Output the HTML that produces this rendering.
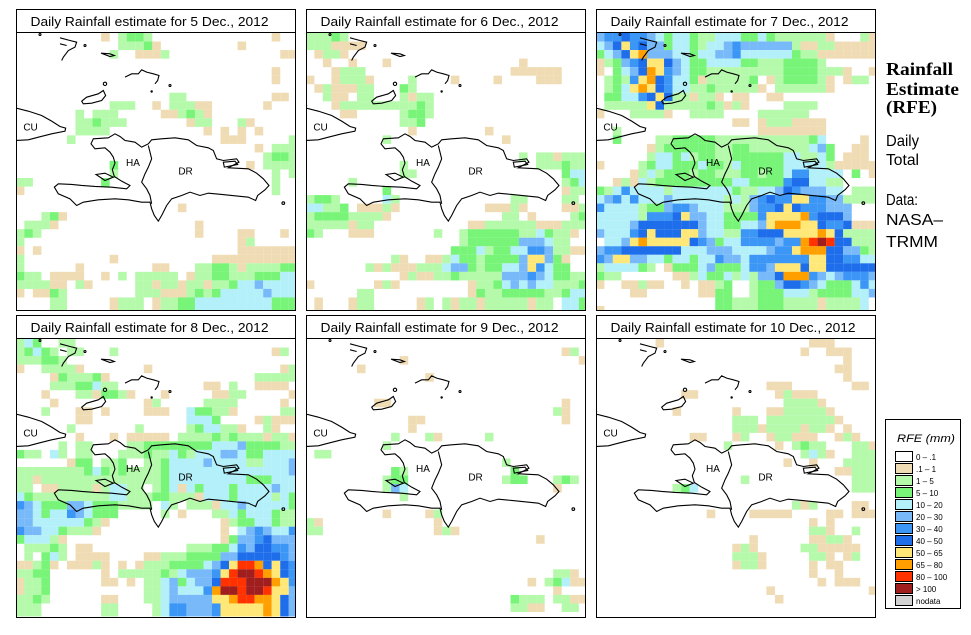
<!DOCTYPE html>
<html><head><meta charset="utf-8">
<style>
html,body{margin:0;padding:0;background:#fff;}
body{width:971px;height:635px;position:relative;overflow:hidden;font-family:"Liberation Sans",sans-serif;}
svg{position:absolute;left:0;top:0;}
</style></head>
<body>
<svg id="chart" width="971" height="635" viewBox="0 0 971 635" xmlns="http://www.w3.org/2000/svg">
  <defs>
    <clipPath id="mapclip"><rect x="0" y="0" width="279" height="278"/></clipPath>
  </defs>
  <g id="panels"></g>
  <g>
    <text x="886" y="75" font-family="Liberation Serif,serif" font-weight="bold" font-size="18" textLength="67" lengthAdjust="spacingAndGlyphs">Rainfall</text>
    <text x="886" y="95" font-family="Liberation Serif,serif" font-weight="bold" font-size="18" textLength="73" lengthAdjust="spacingAndGlyphs">Estimate</text>
    <text x="886" y="113" font-family="Liberation Serif,serif" font-weight="bold" font-size="18" textLength="51" lengthAdjust="spacingAndGlyphs">(RFE)</text>
    <text x="886" y="146" font-size="16" textLength="33" lengthAdjust="spacingAndGlyphs">Daily</text>
    <text x="886" y="165" font-size="16" textLength="33" lengthAdjust="spacingAndGlyphs">Total</text>
    <text x="886" y="205" font-size="16" textLength="32" lengthAdjust="spacingAndGlyphs">Data:</text>
    <text x="886" y="225" font-size="16" textLength="57" lengthAdjust="spacingAndGlyphs">NASA–</text>
    <text x="886" y="247" font-size="16" textLength="52" lengthAdjust="spacingAndGlyphs">TRMM</text>
  </g>
  <g id="legend">
    <rect x="885.5" y="419.5" width="75" height="189" fill="#fff" stroke="#000" stroke-width="1"/>
    <text x="897" y="442" font-size="11" font-style="italic" textLength="58" lengthAdjust="spacingAndGlyphs">RFE (mm)</text>
  </g>
</svg>
<script>
// Level codes: 0 '0-.1', 1 '.1-1', 2 '1-5', 3 '5-10', 4 '10-20', 5 '20-30', 6 '30-40', 7 '40-50', 8 '50-65', 9 '65-80', a '80-100', b '>100'
const legendLabels = ["0 – .1", ".1 – 1", "1 – 5", "5 – 10", "10 – 20", "20 – 30", "30 – 40", "40 – 50", "50 – 65", "65 – 80", "80 – 100", "> 100", "nodata"];
const levelColors = ["#ffffff","#f0dcb4","#b4faaa","#78f578","#b4f0fa","#78b9fa","#3c96f5","#1e6eeb","#ffe878","#ffa000","#ff3200","#a01e1e","#d2d2d2"];
const panelTitles = ["Daily Rainfall estimate for  5 Dec., 2012","Daily Rainfall estimate for  6 Dec., 2012","Daily Rainfall estimate for  7 Dec., 2012","Daily Rainfall estimate for  8 Dec., 2012","Daily Rainfall estimate for  9 Dec., 2012","Daily Rainfall estimate for 10 Dec., 2012"];

const gridDec5 = [
"00000000001 02332000000 00000000100",
"00000000000 02223100000 00001000000",
"00000000000 20011120000 00000000011",
"00000000000 00000000000 00000000000",
"00000000000 00000000000 00000000100",
"00000000000 00000000000 00000000100",
"00000000000 00000000000 00000000000",
"00000000000 00000002200 00000000110",
"00000000000 22200102221 10000001000",
"00000002022 20000011232 10000000000",
"00000002232 22000000012 20002100000",
"00000002222 00000000000 10101010000",
"00000020000 00000000000 00111000002",
"00000000000 00000000000 00000010222",
"00000000000 00000000000 00000002332",
"00000000000 30000000000 00000102222",
"00000000000 20000000000 00000000202",
"22000000003 00000000000 00000000200",
"10000000000 00000000000 00000000200",
"00000000000 00000000000 00000000000",
"00000000000 00000000100 00000000000",
"00023100000 00000000000 00000000000",
"02221000000 00000000001 00000000000",
"23200000000 00000000001 00001100010",
"20000000000 00000000000 00001200000",
"10100000000 00000000000 00001111111",
"20000000000 10000000000 01111111111",
"20000001000 00000110002 23321222233",
"32201111001 02022222012 23322233344",
"22221102100 00022122122 12234454444",
"10113200000 00022211123 23444445444",
"00002200000 12220122334 44444444333",
"00002200000 12220122334 44444444333"];

const gridDec6 = [
"22232000000 00000000000 00000000000",
"22211110000 00000000000 00000000000",
"01221000000 00000000000 00000000000",
"00100100010 00000000000 00010000000",
"00012220000 00000000000 00111111000",
"10012221000 02000010000 10000111000",
"01211122000 32000000000 00000000000",
"00211022000 21220000000 00000000000",
"00012222222 22320000000 00000000000",
"00001100000 23320000000 00000000000",
"00000000000 22300000000 00000000000",
"00000000000 01000000001 00000000000",
"00000000020 00000000000 01000000000",
"00000000000 00000000000 00000000000",
"00000000000 00000000000 00020221222",
"00000000000 20000000000 00000222322",
"00000000000 22000000000 00000000344",
"00000200000 00000000000 00000000234",
"00000000030 00000000000 00000000122",
"23320000042 00000000000 00220000220",
"44223011121 00000000001 11210000112",
"23333222210 00000000000 02201000023",
"22222122000 00000000112 22222111222",
"32000111000 00002002333 33322432210",
"00000000000 00000002333 33355542200",
"00000000000 00000033342 33446652211",
"00000000002 10011243323 33358853100",
"00000002121 11222455323 34458643300",
"00000000000 12112232222 25556543322",
"10000000121 00000000122 34545442223",
"00000022000 00000000132 23333322344",
"01000122000 00120212212 22221220443",
"01000122000 00120212212 22221220443"];

const gridDec7 = [
"56676654344 32244433432 22222100021",
"45786755344 32445655555 52112211111",
"34578955544 34455644444 43221111111",
"12356788754 33444433222 33332000000",
"10345798654 33222222222 33332221001",
"02326897644 31222223012 33332101220",
"02348987644 22322222102 22222100000",
"03344678722 12210110011 00000000000",
"02222287222 22321210000 22220000000",
"10002222100 22220000222 22200000000",
"00000000000 00000110122 21111000000",
"00200000000 00000000111 11111000000",
"00300002233 33322222222 22234000010",
"00000012333 33322332222 22245300110",
"00000024434 23322333333 44224301110",
"10000234433 34332433333 44444211111",
"00001242333 23322233233 46644440301",
"00121423333 33333443333 67744220000",
"32464444244 44444322445 76555440222",
"45646444544 44442425676 68866552222",
"64444233566 54442225667 87666555000",
"44444266678 55443333688 88967775000",
"44445777777 75443344589 99887667111",
"54446787778 85442266777 88889872222",
"04458988888 76534466665 669aba77222",
"56677777774 44555444456 68999775532",
"65885544344 34465546666 66688776644",
"24444320133 34533346658 88788777777",
"32200000011 24334242557 99965456665",
"10011211001 01123002335 77654333464",
"00001100000 01133002333 44423333445",
"00000000000 00033222333 22221222240",
"10000000000 00033222333 22221222240"];

const gridDec8 = [
"24300220000 00000000000 00000000000",
"23432022000 20000000000 00000000120",
"22233200000 00000000000 00000000000",
"10022221000 00001000000 00000000012",
"00001322231 00000000000 00000022222",
"00002223342 20000000000 11020011110",
"00010002213 32100010000 01122000001",
"00001000000 00001200000 22220000010",
"00020001101 00001110043 32210000022",
"00000001100 00000000044 43000012111",
"00000020000 00020000023 44221002100",
"00000001000 10111110222 23232221221",
"00000202200 00223333333 34445333322",
"32204202200 02223224324 44554334444",
"00000013302 23002234444 54444224445",
"22222222343 23222234444 44444444445",
"22122222222 22222234444 44444333444",
"22011222212 44220234143 44434444544",
"43222222222 44222332221 44434444243",
"65433355433 32222042022 21445444443",
"55434465433 30000020100 02243444322",
"55444444321 00000000000 00123344322",
"65544322210 00000000000 00104565446",
"34442100000 00000000000 00135567555",
"02223201100 00000000022 23346577665",
"02034201111 00001122233 33557777765",
"11231011121 01012223333 4578aa97876",
"22330000001 02222232455 568abba9876",
"12230000001 10102245345 57aaabbb986",
"12230000000 00002245444 69bbabba885",
"22320000001 10002245555 5889aa99875",
"22200000002 20000246655 56888889875",
"22200000002 20000246655 56888889875"];

const gridDec9 = [
"00000000000 00000000000 00000000000",
"00000000000 00000000000 00000000120",
"00000000000 10000000000 00000000001",
"00000010000 00000000000 00000000000",
"00000000000 00010000000 00000000000",
"00000000000 00000000000 00000000000",
"00000000000 00000000000 00000000000",
"00000000110 00000000000 00000000100",
"00000000000 00000000000 00000002100",
"00000000000 01100000000 00000000100",
"00000000000 01000000000 00000000000",
"00000000002 00021000002 00000000000",
"00000000020 00000000000 00000000000",
"02200000000 00000000000 00000000000",
"00000000000 00000000000 02000000000",
"00000000003 20000000000 00300000000",
"00000000023 30000000000 02330002320",
"00000000025 40000000000 00000001000",
"00000000000 20000000000 00000000000",
"00000000000 00000000000 00000000000",
"00000000010 00012000000 00000000000",
"21000000000 00001000000 00000000000",
"22000000000 00001210000 00000000000",
"00000000000 00000000000 00000100000",
"00000000000 00000000000 00000000000",
"00000000000 00000000000 00000000000",
"00000000000 00000000000 00000000000",
"00000000000 00000000000 00000002210",
"00000000000 00000000000 00001023411",
"00000000000 00000000000 00000001000",
"00000000000 00000000000 00322202211",
"00000000000 00000000000 00221100220",
"00000000000 00000000000 00000000000"];

const gridDec10 = [
"00000001000 00000000000 00011100000",
"00000000000 00000000000 00100111000",
"00000000000 00000000000 00000001000",
"00000000000 00000000000 00000011000",
"00000000000 00000000000 00000001000",
"00000000000 00000000011 10000000110",
"00000000001 10000000001 21110000000",
"00000000000 00000000000 22221000000",
"00000000010 00000100011 22222100000",
"00000000000 00000222022 22222210000",
"00000000000 00000222122 22122101000",
"00000000000 11000120012 21110012100",
"00000000000 00002000001 02322000221",
"00000000000 00000000000 00242100222",
"00000000000 00000000000 10010002222",
"00000000000 00000000000 00000011222",
"00000000000 00000020000 00000000222",
"00000000023 40000000000 00000000222",
"00000000000 00000000000 00000000000",
"00000000000 00000000000 02120000110",
"00000000000 00100001111 10000110111",
"00000000000 00000000000 00010100000",
"00000000000 00000000000 00022100200",
"00000000000 00000001000 00011221000",
"00000000000 00000121000 00221111100",
"00000000000 00000222100 00022101200",
"00000000000 00000122100 00010110000",
"00000000000 00000000000 00010010000",
"00000000000 00000000000 00001011100",
"00000000000 00000000010 00000000001",
"00000000000 00000000001 00000000000",
"00000000000 00000000000 00000000000",
"00000000000 00000000000 00000000000"];

const grids = [gridDec5, gridDec6, gridDec7, gridDec8, gridDec9, gridDec10];

const NS = "http://www.w3.org/2000/svg";
const panelX = [16, 306, 596];
const rowTitleY = [9, 315];
const rowMapY = [32, 338];
const CELL = 8.53, GX0 = -0.7, GY0 = 0.5;
function colX(c){ return GX0 + c*CELL; }
function rowY(r){ return GY0 + r*CELL; }

const coastPaths = [
 "M228,340 L235,325 L280,322 L300,310 L315,318 L330,330 L360,335 L380,350 L400,340 L410,328 L440,325 L480,322 L520,328 L545,345 L580,352 L595,360 L605,385 L625,390 L665,385 L672,395 L640,412 L700,415 L725,428 L745,445 L762,465 L750,478 L728,495 L722,510 L700,500 L660,496 L620,492 L580,488 L555,495 L525,485 L500,495 L470,505 L455,525 L440,555 L430,572 L418,555 L410,535 L405,515 L380,515 L340,508 L300,505 L250,508 L205,515 L185,525 L165,505 L130,490 L118,470 L130,460 L170,462 L200,465 L240,468 L290,470 L335,475 L345,465 L320,452 L298,438 L292,418 L300,398 L295,380 L285,365 L270,352 L240,355 Z",
 "M400,345 L405,365 L410,385 L400,410 L390,430 L380,455 L395,475 L405,495 L410,520",
 "M625,395 L660,392 L668,402 L628,410 Z",
 "M0,212 L5,225 L0,232 L40,242 L80,255 L110,272 L135,288 L152,293 L150,302 L110,310 L70,320 L40,328 L0,330",
 "M200,212 L215,200 L250,190 L265,180 L272,195 L260,210 L230,218 L205,220 Z",
 "M330,140 L350,130 L370,130 L380,118 L395,125 L415,130 L432,135 L428,150 L420,160",
 "M135,22 L165,30 L185,35 L180,50 L160,60 L145,80 L140,90",
 "M135,40 L155,45",
 "M258,68 L285,70 L298,75 L285,78 Z",
 "M243,432 L270,428 L295,440 L270,450 Z"
];
const coastDots = [[270,160,5],[805,518,4],[75,12,3],[210,45,3],[465,165,3],[410,183,2]];
const mapLabels = [["CU",40,300],["HA",348,406],["DR",505,432]];

const gPanels = document.getElementById('panels');
for (let p = 0; p < 6; p++) {
  const col = p % 3, row = Math.floor(p / 3);
  const px = panelX[col];
  const g = document.createElementNS(NS, 'g');
  
  
  gPanels.appendChild(g);

  const tb = document.createElementNS(NS, 'rect');
  
  
  tb.setAttribute('x', px + 0.5); tb.setAttribute('y', rowTitleY[row] + 0.5);
  tb.setAttribute('width', 279); tb.setAttribute('height', rowMapY[row] - rowTitleY[row]);
  tb.setAttribute('fill', '#fff'); tb.setAttribute('stroke', '#000');
  g.appendChild(tb);
  const tt = document.createElementNS(NS, 'text');
  
  
  tt.setAttribute('x', px + 14.5); tt.setAttribute('y', rowTitleY[row] + 17);
  tt.setAttribute('font-size', '13');
  tt.setAttribute('textLength', p === 5 ? 245 : 238);
  tt.setAttribute('lengthAdjust', 'spacingAndGlyphs');
  tt.setAttribute('xml:space', 'preserve');
  tt.textContent = panelTitles[p];
  g.appendChild(tt);

  const mg = document.createElementNS(NS, 'g');
  
  
  mg.setAttribute('transform', 'translate(' + (px + 0.5) + ',' + (rowMapY[row] + 0.5) + ')');
  g.appendChild(mg);
  const cg = document.createElementNS(NS, 'g');
  cg.setAttribute('clip-path', 'url(#mapclip)');
  mg.appendChild(cg);
  const grid = grids[p];
  for (let r = 0; r < grid.length; r++) {
    const s = grid[r].replace(/ /g, '');
    for (let c = 0; c < s.length; c++) {
      const lv = parseInt(s[c], 16);
      if (!lv) continue;
      const rc = document.createElementNS(NS, 'rect');
      
      
      rc.setAttribute('x', colX(c).toFixed(2)); rc.setAttribute('y', rowY(r).toFixed(2));
      rc.setAttribute('width', (CELL + 0.05).toFixed(2)); rc.setAttribute('height', (CELL + 0.05).toFixed(2));
      rc.setAttribute('fill', levelColors[lv]);
      cg.appendChild(rc);
    }
  }
  const coast = document.createElementNS(NS, 'g');
  
  
  coast.setAttribute('transform', 'translate(-1.5,-2) scale(0.3333)');
  coast.setAttribute('fill', 'none'); coast.setAttribute('stroke', '#000'); coast.setAttribute('stroke-width', '3.3');
  cg.appendChild(coast);
  coastPaths.forEach(d => {
    const pa = document.createElementNS(NS, 'path');
    
    
    pa.setAttribute('d', d);
    coast.appendChild(pa);
  });
  coastDots.forEach(dt => {
    const ci = document.createElementNS(NS, 'circle');
    
    
    ci.setAttribute('cx', dt[0]); ci.setAttribute('cy', dt[1]); ci.setAttribute('r', dt[2]);
    coast.appendChild(ci);
  });
  mapLabels.forEach(l => {
    const tx = document.createElementNS(NS, 'text');
    
    
    tx.setAttribute('x', l[1] / 3 - 1.5 - 5); tx.setAttribute('y', l[2] / 3 - 2);
    tx.setAttribute('font-size', '10');
    tx.textContent = l[0];
    mg.appendChild(tx);
  });
  const mb = document.createElementNS(NS, 'rect');
  
  
  mb.setAttribute('x', 0); mb.setAttribute('y', 0);
  mb.setAttribute('width', 279); mb.setAttribute('height', row === 0 ? 278 : 279);
  mb.setAttribute('fill', 'none'); mb.setAttribute('stroke', '#000');
  mg.appendChild(mb);
}

const lg = document.getElementById('legend');
for (let i = 0; i < legendLabels.length; i++) {
  const y = 451 + i * 12;
  const sw = document.createElementNS(NS, 'rect');
  
  
  sw.setAttribute('x', 895.5); sw.setAttribute('y', y + 0.5);
  sw.setAttribute('width', 17); sw.setAttribute('height', 10);
  sw.setAttribute('fill', levelColors[i]); sw.setAttribute('stroke', '#000');
  lg.appendChild(sw);
  const lt = document.createElementNS(NS, 'text');
  
  
  lt.setAttribute('x', 916); lt.setAttribute('y', y + 9);
  lt.setAttribute('font-size', '8');
  lt.textContent = legendLabels[i];
  lg.appendChild(lt);
}
</script>
</body></html>
